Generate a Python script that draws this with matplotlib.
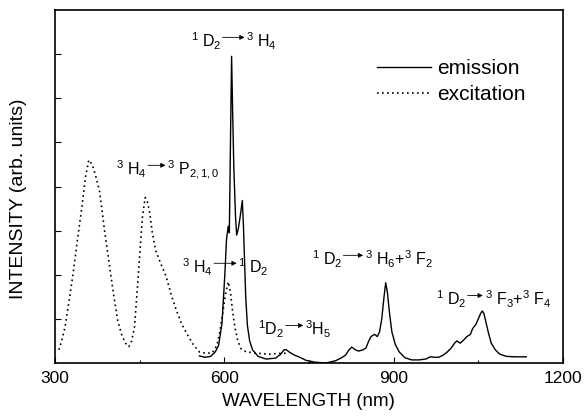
import numpy as np
import matplotlib.pyplot as plt

plt.rcParams['font.family'] = ['Liberation Sans', 'DejaVu Sans']
plt.rcParams['mathtext.fontset'] = 'custom'
plt.rcParams['mathtext.rm'] = 'Liberation Sans'
plt.rcParams['mathtext.it'] = 'Liberation Sans:italic'

# emission spectrum (nm, arb. units)
em_wl = [556, 566, 576, 584, 590, 596, 601, 604, 607, 609, 611, 613, 615, 617,
         620, 622, 625, 628, 632, 634, 636, 638, 641, 645, 650, 660, 674, 691,
         700, 706, 710, 716, 724, 732, 745, 760, 780, 797, 808, 815, 821, 826,
         832, 838, 846, 851, 856, 860, 866, 871, 875, 879, 883, 886, 889, 893,
         897, 903, 910, 920, 932, 945, 957, 965, 972, 980, 988, 995, 1002, 1008,
         1012, 1018, 1024, 1030, 1036, 1040, 1046, 1050, 1054, 1057, 1060, 1064,
         1068, 1073, 1080, 1088, 1100, 1115, 1135]
em_int = [0.16, 0.13, 0.15, 0.25, 0.4, 0.9, 2.0, 2.8, 3.1, 2.95, 5.0, 6.95, 5.6, 4.4,
          3.3, 2.9, 3.05, 3.3, 3.68, 3.1, 2.3, 1.5, 0.85, 0.5, 0.3, 0.15, 0.09, 0.11,
          0.2, 0.3, 0.3, 0.24, 0.18, 0.14, 0.06, 0.02, 0.0, 0.05, 0.12, 0.18, 0.3, 0.36,
          0.3, 0.27, 0.3, 0.34, 0.5, 0.6, 0.65, 0.6, 0.7, 1.0, 1.5, 1.82, 1.6, 1.1,
          0.7, 0.42, 0.25, 0.12, 0.07, 0.07, 0.09, 0.14, 0.13, 0.13, 0.18, 0.25, 0.34, 0.45,
          0.5, 0.45, 0.52, 0.6, 0.65, 0.78, 0.88, 1.0, 1.12, 1.18, 1.12, 0.9,
          0.68, 0.45, 0.3, 0.2, 0.15, 0.14, 0.14]

# excitation spectrum
ex_wl = [307, 312, 318, 325, 332, 340, 348, 354, 360, 366, 372, 379, 388, 397,
         404, 411, 418, 425, 431, 436, 441, 445, 450, 455, 460, 464, 468, 472,
         478, 486, 497, 506, 515, 524, 533, 545, 556, 568, 579, 587, 592, 597,
         602, 607, 611, 615, 619, 624, 630, 639, 660, 680, 700, 710]
ex_int = [0.3, 0.5, 0.82, 1.4, 2.0, 2.8, 3.55, 4.2, 4.6, 4.5, 4.25, 3.9, 3.0, 2.18,
          1.55, 0.98, 0.65, 0.45, 0.37, 0.5, 0.82, 1.5, 2.4, 3.3, 3.75, 3.65, 3.4, 3.0,
          2.57, 2.3, 1.96, 1.55, 1.2, 0.9, 0.68, 0.42, 0.25, 0.22, 0.23, 0.4, 0.7, 1.1,
          1.55, 1.84, 1.6, 1.15, 0.8, 0.5, 0.32, 0.25, 0.22, 0.2, 0.22, 0.22]

# transition labels: (left text, right text, left end, arrow end, baseline)
transitions = [
    (r'$^{1}\ \mathrm{D}_{2}$', r'$^{3}\ \mathrm{H}_{4}$', 597, 636, 7.16),
    (r'$^{3}\ \mathrm{H}_{4}$', r'$^{3}\ \mathrm{P}_{2,1,0}$', 465, 496, 4.26),
    (r'$^{3}\ \mathrm{H}_{4}$', r'$^{1}\ \mathrm{D}_{2}$', 582, 622, 2.04),
    (r'$^{1}\mathrm{D}_{2}$', r'$^{3}\mathrm{H}_{5}$', 709, 740, 0.63),
    (r'$^{1}\ \mathrm{D}_{2}$', r'$^{3}\ \mathrm{H}_{6}$+$^{3}\ \mathrm{F}_{2}$', 811, 846, 2.22),
    (r'$^{1}\ \mathrm{D}_{2}$', r'$^{3}\ \mathrm{F}_{3}$+$^{3}\ \mathrm{F}_{4}$', 1031, 1058, 1.31),
]

fig = plt.figure(figsize=(5.84, 4.17), dpi=100)
ax = fig.add_axes([0.094, 0.1295, 0.870, 0.8465])

ax.plot(em_wl, em_int, color='black', lw=1.0, label='emission')
ax.plot(ex_wl, ex_int, color='black', lw=1.2, linestyle=(0, (1, 2)), label='excitation')

for left, right, x1, x2, yb in transitions:
    ax.text(x1 - 2, yb, left, ha='right', va='baseline', fontsize=11.5)
    ax.text(x2 + 3, yb, right, ha='left', va='baseline', fontsize=11.5)
    ax.annotate('', xy=(x2, yb + 0.22), xytext=(x1, yb + 0.22),
                arrowprops=dict(arrowstyle='-|>', lw=0.6, color='black',
                                mutation_scale=7, shrinkA=0, shrinkB=0))

ax.set_xlim(300, 1200)
ax.set_ylim(0, 8)
ax.set_xticks([300, 600, 900, 1200])
ax.set_xticks([450, 750, 1050], minor=True)
ax.set_yticks(range(1, 8))
ax.set_yticklabels([])
ax.tick_params(direction='in', which='both', labelsize=12.5, width=0.8)
ax.tick_params(which='major', length=4)
ax.tick_params(which='minor', length=2.5)
ax.tick_params(axis='x', pad=6)
for s in ax.spines.values():
    s.set_linewidth(1.2)

ax.set_xlabel('WAVELENGTH (nm)', fontsize=13.5, labelpad=5)
ax.set_ylabel('INTENSITY (arb. units)', fontsize=14, labelpad=12)
ax.yaxis.set_label_coords(-0.055, 0.465)

ax.legend(loc='upper left', bbox_to_anchor=(0.633, 0.861), frameon=False,
          fontsize=15, handlelength=2.6, handletextpad=0.3, labelspacing=0.35,
          borderpad=0, borderaxespad=0)

fig.savefig('out.png', dpi=100)
